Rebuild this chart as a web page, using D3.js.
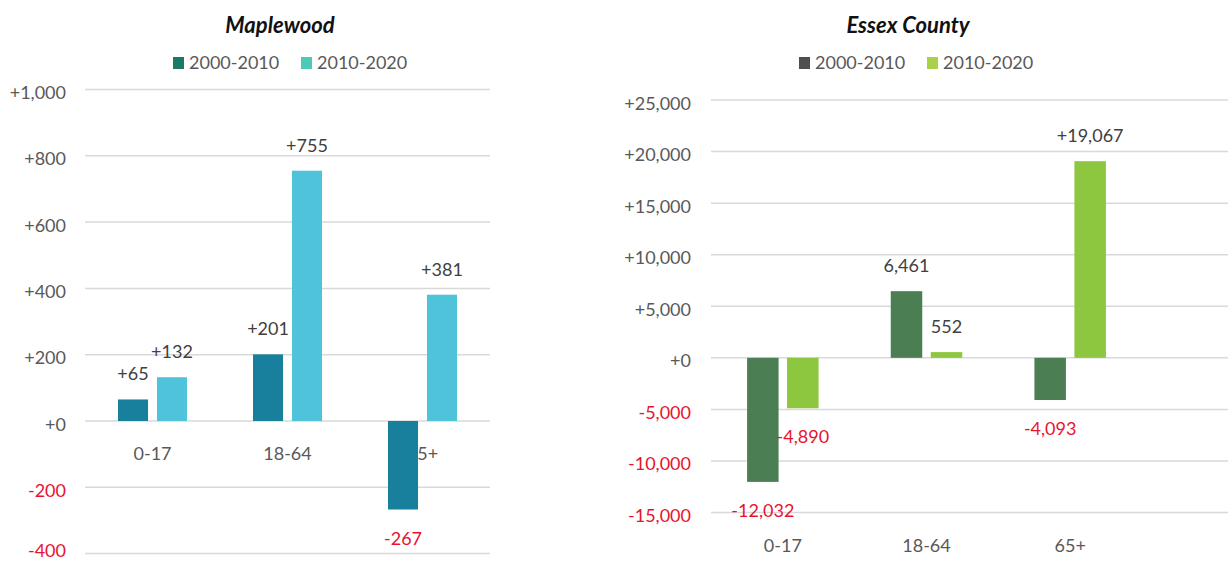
<!DOCTYPE html>
<html>
<head>
<meta charset="utf-8">
<script src="https://cdn.jsdelivr.net/npm/d3@7"></script>
<style>
  html, body { margin: 0; padding: 0; background: #fff; }
  svg { display: block; font-family: Lato, "Open Sans", sans-serif; }
</style>
</head>
<body>
<svg id="chart" width="1228" height="561"></svg>
<script>
// Age groups shared by both panels
const ageGroups = ["0-17", "18-64", "65+"];
const periods = ["2000-2010", "2010-2020"];

// Population change, Maplewood
const maplewood2000s = [65, 201, -267];
const maplewood2010s = [132, 755, 381];
const maplewoodTicks = [-400, -200, 0, 200, 400, 600, 800, 1000];

// Population change, Essex County
const essex2000s = [-12032, 6461, -4093];
const essex2010s = [-4890, 552, 19067];
const essexTicks = [-15000, -10000, -5000, 0, 5000, 10000, 15000, 20000, 25000];

const W = 1228, H = 561;
const svg = d3.select("#chart");
// plain hyphen for negatives, comma thousands
const locale = d3.formatLocale({ decimal: ".", thousands: ",", grouping: [3], currency: ["$", ""], minus: "-" });
const fmt = locale.format(",");
const fmtSigned = v => (v > 0 ? "+" : "") + fmt(v);
const RED = "#e8132f";

function drawPanel(cfg) {
  const g = svg.append("g");
  const y = d3.scaleLinear().domain(cfg.domain).range(cfg.yRange);
  const x0 = d3.scaleBand().domain(ageGroups).range(cfg.xRange)
    .paddingInner(cfg.groupPad).paddingOuter(cfg.groupPad / 2);
  const x1 = d3.scaleBand().domain(periods).range([0, x0.bandwidth()])
    .paddingInner(cfg.barPad).paddingOuter(0);

  // title
  g.append("text")
    .attr("x", cfg.titleX).attr("y", 33)
    .attr("text-anchor", "middle")
    .attr("font-size", 22).attr("font-weight", 700).attr("font-style", "italic")
    .attr("fill", "#111")
    .text(cfg.title);

  // legend
  const leg = g.append("g");
  periods.forEach((p, i) => {
    leg.append("rect")
      .attr("x", cfg.legendX[i]).attr("y", 57)
      .attr("width", 11).attr("height", 12)
      .attr("fill", cfg.legendColors[i]);
    leg.append("text")
      .attr("x", cfg.legendX[i] + 16).attr("y", 69)
      .attr("font-size", 18).attr("fill", "#595959")
      .text(p);
  });

  // gridlines
  g.append("g").selectAll("line").data(cfg.ticks).join("line")
    .attr("x1", cfg.gridX[0]).attr("x2", cfg.gridX[1])
    .attr("y1", d => y(d)).attr("y2", d => y(d))
    .attr("stroke", "#d9d9d9").attr("stroke-width", 1.5);

  // value axis labels; keep the lowest one inside the canvas
  const yAxis = d3.axisLeft(y).tickValues(cfg.ticks).tickSize(0).tickPadding(0)
    .tickFormat(d => d >= 0 ? "+" + fmt(d) : fmt(d));
  const ya = g.append("g").attr("transform", `translate(${cfg.tickX},0)`).call(yAxis);
  ya.select(".domain").remove();
  ya.selectAll("text")
    .attr("font-family", "Lato, 'Open Sans', sans-serif")
    .attr("font-size", 18)
    .attr("dy", null)
    .attr("y", d => Math.min(9, H - 5 - y(d)))
    .attr("fill", d => d < 0 ? RED : "#595959");

  // category axis labels (sit beneath the bars)
  const xAxis = d3.axisBottom(x0).tickSize(0).tickPadding(0);
  const xa = g.append("g").attr("transform", `translate(0,${cfg.catY})`).call(xAxis);
  xa.select(".domain").remove();
  xa.selectAll("text")
    .attr("font-family", "Lato, 'Open Sans', sans-serif")
    .attr("font-size", 18).attr("dy", null).attr("y", 0)
    .attr("fill", "#595959");

  // bars
  const rows = ageGroups.map((a, i) => ({
    age: a,
    vals: periods.map((p, j) => ({ period: p, idx: j, v: cfg.series[j][i] }))
  }));
  const grp = g.append("g").selectAll("g").data(rows).join("g")
    .attr("transform", d => `translate(${x0(d.age)},0)`);
  grp.selectAll("rect").data(d => d.vals).join("rect")
    .attr("x", d => x1(d.period))
    .attr("width", x1.bandwidth())
    .attr("y", d => y(Math.max(0, d.v)))
    .attr("height", d => Math.abs(y(d.v) - y(0)))
    .attr("fill", d => cfg.barColors[d.idx]);

  // value labels
  grp.selectAll("text").data(d => d.vals).join("text")
    .attr("x", d => x1(d.period) + x1.bandwidth() / 2)
    .attr("y", d => d.v >= 0 ? y(d.v) - 19 : y(d.v) + 35)
    .attr("text-anchor", "middle")
    .attr("font-size", 18)
    .attr("fill", d => d.v < 0 ? RED : "#404040")
    .text(d => cfg.labelFormat(d));
}

drawPanel({
  title: "Maplewood",
  titleX: 280,
  legendX: [173, 301],
  legendColors: ["#1b7a66", "#4dc9b6"],
  barColors: ["#18809c", "#4ec3da"],
  domain: [-400, 1000],
  yRange: [553.6, 89.5],
  xRange: [85, 490],
  gridX: [85, 490],
  tickX: 66,
  catY: 460,
  groupPad: 0.489,
  barPad: 0.23,
  ticks: maplewoodTicks,
  series: [maplewood2000s, maplewood2010s],
  labelFormat: d => fmtSigned(d.v)
});

drawPanel({
  title: "Essex County",
  titleX: 908,
  legendX: [799, 927],
  legendColors: ["#4f4f4f", "#a8d14c"],
  barColors: ["#4b7f53", "#8dc63f"],
  domain: [-15000, 25000],
  yRange: [512.5, 100],
  xRange: [711, 1142],
  gridX: [711, 1228],
  tickX: 691,
  catY: 552,
  groupPad: 0.5023,
  barPad: 0.2125,
  ticks: essexTicks,
  series: [essex2000s, essex2010s],
  // the county labels carry a plus sign only on the 2010-2020 gain in 65+
  labelFormat: d => d.v < 0 ? fmt(d.v) : (d.v > 10000 ? "+" : "") + fmt(d.v)
});
</script>
</body>
</html>
